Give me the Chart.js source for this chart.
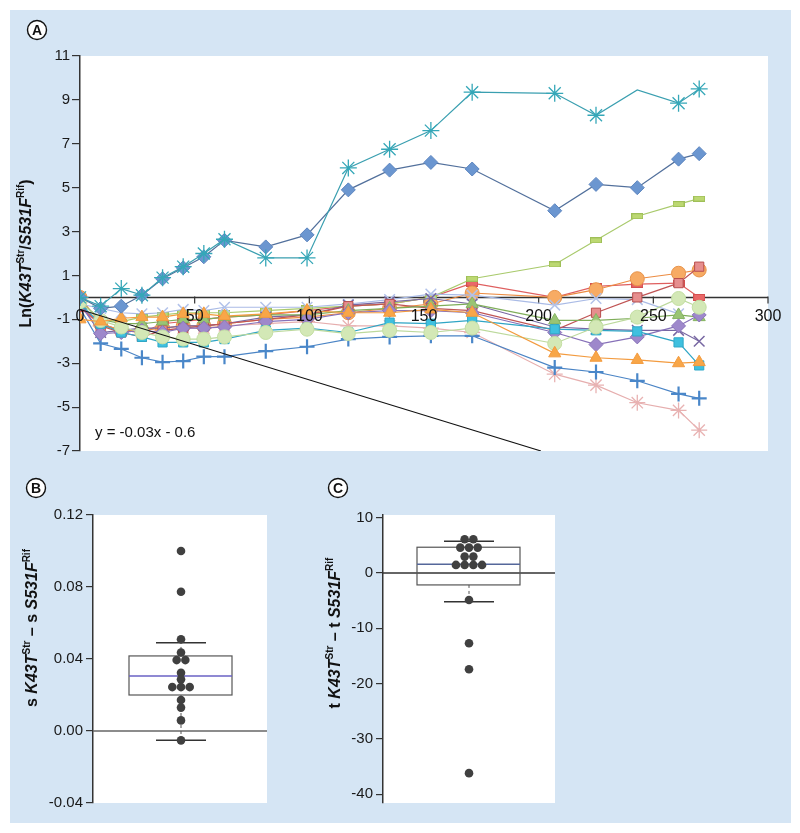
<!DOCTYPE html>
<html><head><meta charset="utf-8">
<script src="https://cdn.jsdelivr.net/npm/chart.js@4.4.0/dist/chart.umd.min.js"></script>
<style>
html,body{margin:0;padding:0;background:#fff;}
#wrap{position:relative;width:800px;height:833px;overflow:hidden;background:#fff;}
#bg{position:absolute;left:10px;top:10px;width:781px;height:813px;background:#d5e5f4;}
canvas{position:absolute;}
</style></head><body>
<div id="wrap"><div id="bg"></div>
<canvas id="cA" width="800" height="470" style="left:0;top:0"></canvas>
<canvas id="cB" width="320" height="363" style="left:0;top:470px"></canvas>
<canvas id="cC" width="480" height="363" style="left:320px;top:470px"></canvas>
</div>
<script>
// ---------- DATA (panel A) ----------
const timePoints = [0, 9, 18, 27, 36, 45, 54, 63, 81, 99, 117, 135, 153, 171, 207, 225, 243, 261, 270];
const asteriskTeal    = [0, -0.4, 0.4, 0.1, 0.9, 1.4, 2.0, 2.65, 1.8, 1.8, 5.9, 6.75, 7.6, 9.35, 9.3, 8.3, 9.45, 8.85, 9.5];
const diamondBlue     = [0, -0.5, -0.4, 0.1, 0.85, 1.35, 1.85, 2.6, 2.3, 2.85, 4.9, 5.8, 6.15, 5.85, 3.95, 5.15, 5.0, 6.3, 6.55];
const dashLime        = [-0.2, -1.0, -1.1, -0.9, -0.8, -0.7, -0.7, -0.7, -0.6, -0.5, -0.4, -0.3, 0.0, 0.85, 1.5, 2.6, 3.7, 4.25, 4.5];
const circleOrange    = [0, -1.2, -1.5, -1.5, -1.4, -1.3, -1.3, -1.2, -1.0, -0.9, -0.7, -0.5, -0.3, 0.2, 0.0, 0.35, 0.85, 1.1, 1.25];
const squareRose      = [-0.3, -1.3, -1.6, -1.8, -1.5, -1.4, -1.3, -1.2, -1.0, -0.8, -0.4, -0.3, -0.5, -0.6, -1.5, -0.7, 0.0, 0.65, 1.4];
const dashRed         = [-0.5, -1.2, -1.5, -1.6, -1.2, -1.1, -1.0, -0.9, -0.8, -0.6, -0.4, -0.3, 0.0, 0.65, 0.0, 0.5, 0.6, 0.65, 0.0];
const xLavender       = [-0.3, -0.5, -0.7, -0.75, -0.7, -0.55, -0.6, -0.45, -0.45, -0.45, -0.3, -0.1, 0.15, 0.1, -0.35, -0.05, -0.1, -0.75, null];
const xPurple         = [-0.3, -1.6, -1.5, -1.4, -1.4, -1.3, -1.3, -1.2, -0.9, -0.8, -0.35, -0.2, -0.05, -0.3, -1.35, -1.45, -1.5, -1.5, -2.0];
const diamondPurple   = [-0.3, -1.65, -1.6, -1.5, -1.6, -1.4, -1.4, -1.35, -1.1, -1.0, -0.7, -0.6, -0.6, -0.7, -1.6, -2.15, -1.8, -1.3, -0.8];
const triangleOlive   = [-0.2, -1.0, -1.2, -1.2, -1.1, -1.0, -1.0, -0.9, -0.8, -0.8, -0.6, -0.5, -0.4, -0.3, -1.05, -1.05, -0.95, -0.8, -0.9];
const triangleOrange  = [-1.0, -1.1, -0.95, -0.9, -0.9, -0.75, -0.75, -0.85, -0.75, -0.6, -0.7, -0.7, -0.55, -0.7, -2.55, -2.75, -2.85, -3.0, -2.95];
const squareCyan      = [-0.3, -1.2, -1.6, -1.8, -2.05, -2.05, -2.05, -1.9, -1.5, -1.4, -1.6, -1.15, -1.2, -1.05, -1.45, -1.5, -1.55, -2.05, -3.1];
const circleLightGreen= [-0.2, -1.05, -1.35, -1.6, -1.8, -1.9, -1.9, -1.8, -1.6, -1.45, -1.65, -1.5, -1.6, -1.4, -2.1, -1.35, -0.9, -0.05, -0.45];
const plusBlue        = [-0.5, -2.1, -2.35, -2.75, -2.95, -2.9, -2.7, -2.7, -2.45, -2.25, -1.9, -1.8, -1.75, -1.75, -3.2, -3.4, -3.8, -4.4, -4.6];
const asteriskPink    = [-0.4, -1.3, -1.5, -1.6, -1.5, -1.4, -1.4, -1.3, -1.2, -1.1, -1.3, -1.3, -1.4, -1.6, -3.5, -4.0, -4.8, -5.15, -6.05];
const trendX = [0, 201];
const trendY = [-0.55, -7];
const yTicksA = [-7, -5, -3, -1, 1, 3, 5, 7, 9, 11];
const xTicksA = [0, 50, 100, 150, 200, 250, 300];
const equationText = 'y = -0.03x - 0.6';

// ---------- DATA (panels B, C) ----------
const sTicks = [-0.04, 0, 0.04, 0.08, 0.12];
const sDots = [0.100, 0.0774, 0.051, 0.0436, 0.0394, 0.0394, 0.0324, 0.0287, 0.0244, 0.0244, 0.0244, 0.0172, 0.013, 0.0059, -0.0052];
const sBoxStats = [-0.0052, 0.020, 0.0306, 0.0417, 0.049]; // low whisker, q1, median, q3, high whisker
const tTicks = [-40, -30, -20, -10, 0, 10];
const tDots = [6.1, 6.1, 4.6, 4.6, 4.6, 2.97, 2.97, 1.47, 1.47, 1.47, 1.47, -4.87, -12.7, -17.4, -36.2];
const tBoxStats = [-5.18, -2.15, 1.6, 4.67, 5.75];

// ---------- helpers ----------
const FONT = '"Liberation Sans", Arial, Helvetica, sans-serif';
function mkDash(w, h, fill, stroke) {
  const c = document.createElement('canvas'); c.width = w; c.height = h;
  const g = c.getContext('2d'); g.fillStyle = fill; g.fillRect(0, 0, w, h);
  g.strokeStyle = stroke; g.lineWidth = 1; g.strokeRect(0.5, 0.5, w - 1, h - 1); return c;
}
function richWidth(ctx, parts, size) {
  let w = 0;
  parts.forEach(p => { ctx.font = (p.i ? 'italic ' : '') + 'bold ' + (p.sup ? Math.round(size * 0.62) : size) + 'px ' + FONT; w += ctx.measureText(p.t).width; });
  return w;
}
function drawRichRotated(ctx, parts, cx, cy, size) {
  ctx.save();
  ctx.translate(cx, cy); ctx.rotate(-Math.PI / 2);
  const w = richWidth(ctx, parts, size);
  let x = -w / 2;
  ctx.fillStyle = '#111'; ctx.textBaseline = 'middle'; ctx.textAlign = 'left';
  parts.forEach(p => {
    ctx.font = (p.i ? 'italic ' : '') + 'bold ' + (p.sup ? Math.round(size * 0.62) : size) + 'px ' + FONT;
    ctx.fillText(p.t, x, p.sup ? -size * 0.38 : 0);
    x += ctx.measureText(p.t).width;
  });
  ctx.restore();
}
function drawLetter(ctx, ch, x, y) {
  ctx.save();
  ctx.beginPath(); ctx.arc(x, y, 9.5, 0, Math.PI * 2); ctx.fillStyle = '#fff'; ctx.fill();
  ctx.lineWidth = 1.4; ctx.strokeStyle = '#111'; ctx.stroke();
  ctx.fillStyle = '#111'; ctx.font = 'bold 14px ' + FONT; ctx.textAlign = 'center'; ctx.textBaseline = 'middle';
  ctx.fillText(ch, x, y + 1);
  ctx.restore();
}
const whiteArea = {
  id: 'whiteArea',
  beforeDraw(chart) { const { ctx, chartArea: a } = chart; ctx.save(); ctx.fillStyle = '#fff'; ctx.fillRect(a.left, a.top, a.right - a.left, a.bottom - a.top); ctx.restore(); }
};

// ---------- Panel A ----------
const seriesA = [
  { data: asteriskTeal, line: '#3a9fb0', ps: 'star', r: 8.5, fill: '#3aa9b8', stroke: '#35a7b8', bw: 1.3, skip: [16] },
  { data: diamondBlue, line: '#52709c', ps: 'rectRot', r: 7, fill: '#6b96d0', stroke: '#5d86c0', bw: 1 },
  { data: triangleOrange, line: '#f39b3f', ps: 'triangle', r: 7, fill: '#f8a648', stroke: '#f39b3f', bw: 1 },
  { data: circleLightGreen, line: '#bcd99c', ps: 'circle', r: 7, fill: '#d3e8b6', stroke: '#c4dfa3', bw: 1 },
  { data: squareCyan, line: '#2fa5c5', ps: 'rect', r: 6.5, fill: '#3fc0df', stroke: '#2fa8c8', bw: 1 },
  { data: diamondPurple, line: '#8670b8', ps: 'rectRot', r: 7, fill: '#9e88cb', stroke: '#8a74ba', bw: 1 },
  { data: triangleOlive, line: '#7fae5a', ps: 'triangle', r: 7, fill: '#99c474', stroke: '#86b462', bw: 1 },
  { data: squareRose, line: '#c05555', ps: 'rect', r: 6.5, fill: '#e68e8e', stroke: '#b84e4e', bw: 1 },
  { data: xPurple, line: '#7767a2', ps: 'crossRot', r: 7.5, fill: '#7767a2', stroke: '#7767a2', bw: 1.5 },
  { data: xLavender, line: '#aabbe6', ps: 'crossRot', r: 7.5, fill: '#b2c2ea', stroke: '#b2c2ea', bw: 1.5 },
  { data: circleOrange, line: '#ec8c43', ps: 'circle', r: 7, fill: '#f7ab64', stroke: '#e8934a', bw: 1 },
  { data: dashLime, line: '#a9ca6c', ps: mkDash(12, 6, '#bcd872', '#9fbf58'), r: 6, fill: '#bcd872', stroke: '#9fbf58', bw: 1 },
  { data: dashRed, line: '#df5f5f', ps: mkDash(12, 7, '#ea6868', '#d45050'), r: 6, fill: '#ea6868', stroke: '#d45050', bw: 1 },
  { data: plusBlue, line: '#4a84c5', ps: 'cross', r: 7.5, fill: '#4a87c9', stroke: '#4a87c9', bw: 2.2 },
  { data: asteriskPink, line: '#e6aeae', ps: 'star', r: 8, fill: '#e8b2b2', stroke: '#e8b2b2', bw: 1.3 }
];
const datasetsA = [{
  data: trendX.map((x, i) => ({ x, y: trendY[i] })), showLine: true, borderColor: '#111', borderWidth: 1.1, pointRadius: 0, fill: false
}].concat(seriesA.map(s => ({
  data: timePoints.map((t, i) => ({ x: t, y: s.data[i] })),
  showLine: true, borderColor: s.line, borderWidth: 1.2,
  pointStyle: s.ps,
  pointRadius: timePoints.map((t, i) => (s.skip && s.skip.includes(i)) ? 0 : s.r),
  pointBackgroundColor: s.fill, pointBorderColor: s.stroke, pointBorderWidth: s.bw,
  spanGaps: false, fill: false
})));

const panelA = {
  id: 'panelA',
  beforeDatasetsDraw(chart) {
    const { ctx, chartArea: a } = chart; const x = chart.scales.x, y = chart.scales.y;
    const y0 = y.getPixelForValue(0);
    ctx.save(); ctx.strokeStyle = '#333'; ctx.lineWidth = 1.5;
    ctx.beginPath(); ctx.moveTo(a.left, y0); ctx.lineTo(a.right, y0); ctx.stroke();
    ctx.lineWidth = 1.2;
    xTicksA.forEach(v => { const px = x.getPixelForValue(v); ctx.beginPath(); ctx.moveTo(px, y0 - 1); ctx.lineTo(px, y0 + 6); ctx.stroke(); });
    ctx.restore();
  },
  afterDraw(chart) {
    const { ctx, chartArea: a } = chart; const x = chart.scales.x, y = chart.scales.y;
    const y0 = y.getPixelForValue(0);
    ctx.save();
    ctx.fillStyle = '#111'; ctx.font = '16px ' + FONT; ctx.textAlign = 'center'; ctx.textBaseline = 'middle';
    xTicksA.forEach(v => ctx.fillText(String(v), x.getPixelForValue(v), y0 + 19));
    ctx.font = '15px ' + FONT; ctx.textAlign = 'left'; ctx.textBaseline = 'alphabetic';
    ctx.fillText(equationText, a.left + 15, a.bottom - 14);
    ctx.restore();
    drawRichRotated(ctx, [{ t: 'Ln(' }, { t: 'K43T', i: 1 }, { t: 'Str', sup: 1 }, { t: '/' }, { t: 'S531F', i: 1 }, { t: 'Rif', sup: 1 }, { t: ')' }], 27, (a.top + a.bottom) / 2, 16);
    drawLetter(ctx, 'A', 37, 30);
  }
};

new Chart(document.getElementById('cA'), {
  type: 'scatter',
  data: { datasets: datasetsA },
  options: {
    responsive: false, animation: false, devicePixelRatio: 1,
    layout: { padding: { left: 0, top: 56, right: 32, bottom: 19 } },
    plugins: { legend: { display: false }, tooltip: { enabled: false } },
    scales: {
      x: { type: 'linear', min: 0, max: 300, display: false },
      y: {
        type: 'linear', min: -7, max: 11,
        afterBuildTicks: s => { s.ticks = yTicksA.map(v => ({ value: v })); },
        afterFit: s => { s.width = 80; },
        grid: { drawOnChartArea: false, drawTicks: true, tickLength: 8, color: '#333', lineWidth: 1.2 },
        border: { display: true, color: '#333', width: 1.5 },
        ticks: { color: '#1a1a1a', font: { size: 15, family: FONT }, padding: 2 }
      }
    }
  },
  plugins: [whiteArea, panelA]
});

// ---------- Panels B & C ----------
function swarmOffsets(values, spacing) {
  const groups = {}; const xs = new Array(values.length).fill(0);
  values.forEach((v, i) => { const k = v.toFixed(5); (groups[k] = groups[k] || []).push(i); });
  Object.values(groups).forEach(idx => { const n = idx.length; idx.forEach((id, j) => { xs[id] = (j - (n - 1) / 2) * spacing; }); });
  return xs;
}
function boxPanel(canvasId, opts) {
  const offs = swarmOffsets(opts.dots, 8.7);
  const plugin = {
    id: 'box' + canvasId,
    beforeDatasetsDraw(chart) {
      const { ctx, chartArea: a } = chart; const x = chart.scales.x, y = chart.scales.y;
      const [lo, q1, med, q3, hi] = opts.stats;
      ctx.save();
      ctx.strokeStyle = opts.zeroColor; ctx.lineWidth = 1.5;
      ctx.beginPath(); ctx.moveTo(a.left, y.getPixelForValue(0)); ctx.lineTo(a.right, y.getPixelForValue(0)); ctx.stroke();
      ctx.strokeStyle = '#555'; ctx.lineWidth = 1; ctx.setLineDash([3, 3]);
      const xc = x.getPixelForValue(0);
      ctx.beginPath(); ctx.moveTo(xc, y.getPixelForValue(q1)); ctx.lineTo(xc, y.getPixelForValue(lo));
      ctx.moveTo(xc, y.getPixelForValue(q3)); ctx.lineTo(xc, y.getPixelForValue(hi)); ctx.stroke();
      ctx.setLineDash([]);
      ctx.strokeStyle = '#555'; ctx.lineWidth = 1.2;
      const bl = x.getPixelForValue(-52), br = x.getPixelForValue(51);
      ctx.strokeRect(bl, y.getPixelForValue(q3), br - bl, y.getPixelForValue(q1) - y.getPixelForValue(q3));
      ctx.strokeStyle = opts.medianColor; ctx.lineWidth = 1.5;
      ctx.beginPath(); ctx.moveTo(bl, y.getPixelForValue(med)); ctx.lineTo(br, y.getPixelForValue(med)); ctx.stroke();
      ctx.strokeStyle = '#333'; ctx.lineWidth = 1.5;
      [lo, hi].forEach(v => { ctx.beginPath(); ctx.moveTo(x.getPixelForValue(-25), y.getPixelForValue(v)); ctx.lineTo(x.getPixelForValue(25), y.getPixelForValue(v)); ctx.stroke(); });
      ctx.restore();
    },
    afterDraw(chart) {
      const { ctx } = chart;
      drawRichRotated(ctx, opts.title, opts.titleX, opts.titleY, 16);
      drawLetter(ctx, opts.letter, opts.letterX, opts.letterY);
    }
  };
  new Chart(document.getElementById(canvasId), {
    type: 'scatter',
    data: { datasets: [{ data: opts.dots.map((v, i) => ({ x: offs[i], y: v })), pointRadius: 4.3, pointBackgroundColor: '#404040', pointBorderColor: '#404040', pointBorderWidth: 0 }] },
    options: {
      responsive: false, animation: false, devicePixelRatio: 1,
      layout: { padding: { left: 0, top: 45, right: opts.padRight, bottom: 30 } },
      plugins: { legend: { display: false }, tooltip: { enabled: false } },
      scales: {
        x: { type: 'linear', min: opts.xmin, max: opts.xmax, display: false },
        y: {
          type: 'linear', min: opts.ymin, max: opts.ymax,
          afterBuildTicks: s => { s.ticks = opts.ticks.map(v => ({ value: v })); },
          afterFit: s => { s.width = opts.axisWidth; },
          grid: { drawOnChartArea: false, drawTicks: true, tickLength: 7, color: '#333', lineWidth: 1.2 },
          border: { display: true, color: '#333', width: 1.5 },
          ticks: { color: '#1a1a1a', font: { size: 15, family: FONT }, padding: 3, callback: opts.fmt }
        }
      }
    },
    plugins: [whiteArea, plugin]
  });
}
boxPanel('cB', {
  dots: sDots, stats: sBoxStats, ticks: sTicks, ymin: -0.04, ymax: 0.12, xmin: -88, xmax: 86,
  axisWidth: 93, padRight: 53, fmt: v => Number(v).toFixed(2), medianColor: '#6a62c4', zeroColor: '#666',
  title: [{ t: 's ' }, { t: 'K43T', i: 1 }, { t: 'Str', sup: 1 }, { t: ' \u2013 s ' }, { t: 'S531F', i: 1 }, { t: 'Rif', sup: 1 }],
  titleX: 33, titleY: 158, letter: 'B', letterX: 36, letterY: 18
});
boxPanel('cC', {
  dots: tDots, stats: tBoxStats, ticks: tTicks, ymin: -41.6, ymax: 10.5, xmin: -86, xmax: 86,
  axisWidth: 63, padRight: 245, fmt: v => String(v), medianColor: '#55679a', zeroColor: '#333',
  title: [{ t: 't ' }, { t: 'K43T', i: 1 }, { t: 'Str', sup: 1 }, { t: ' \u2013 t ' }, { t: 'S531F', i: 1 }, { t: 'Rif', sup: 1 }],
  titleX: 16, titleY: 163, letter: 'C', letterX: 18, letterY: 18
});
</script>
</body></html>
